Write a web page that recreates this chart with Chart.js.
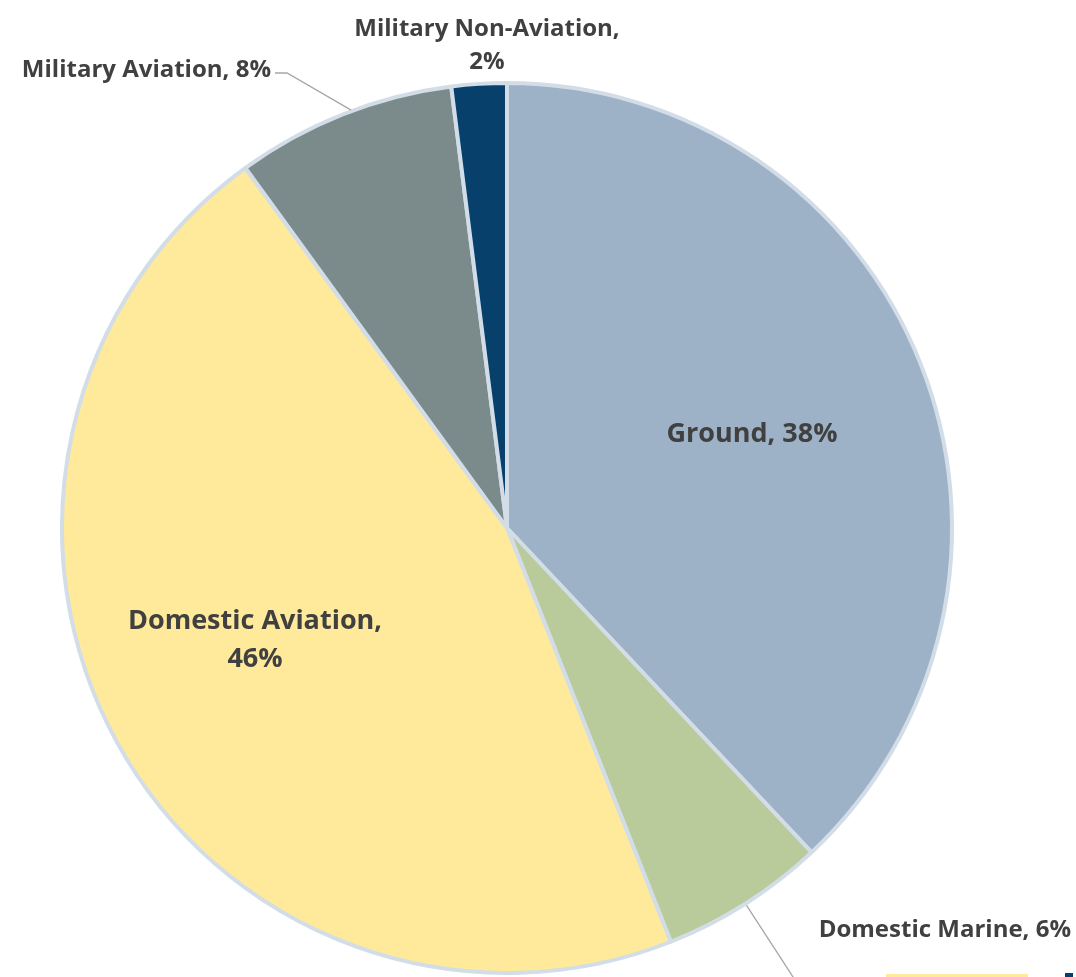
<!DOCTYPE html>
<html>
<head>
<meta charset="utf-8">
<script src="https://cdn.jsdelivr.net/npm/chart.js@4"></script>
<style>
  html, body { margin: 0; padding: 0; background: #fff; overflow: hidden; }
  #wrap { position: relative; width: 1076px; height: 977px; }
</style>
</head>
<body>
<div id="wrap"><canvas id="fuel-pie"></canvas></div>
<script>
var categories = ['Ground', 'Domestic Marine', 'Domestic Aviation', 'Military Aviation', 'Military Non-Aviation'];
var shares = [38, 6, 46, 8, 2];
var sliceColors = ['#9DB2C6', '#B9CA9B', '#FEEA9A', '#7B8B8C', '#07406B'];

// label text + where it sits, in canvas pixels
var labelSpots = [
    { lines: ['Ground, 38%'], x: 752, y: 434, align: 'center', size: 27, gap: 38 },
    { lines: ['Domestic Marine, 6%'], x: 1071, y: 930, align: 'right', size: 24, gap: 33 },
    { lines: ['Domestic Aviation,', '46%'], x: 255, y: 621, align: 'center', size: 27, gap: 38 },
    { lines: ['Military Aviation, 8%'], x: 271, y: 70, align: 'right', size: 24, gap: 33 },
    { lines: ['Military Non-Aviation,', '2%'], x: 487, y: 29, align: 'center', size: 24, gap: 33 }
];

var labelPlugin = {
    id: 'sliceLabels',
    afterDatasetsDraw: function (chart) {
        var ctx = chart.ctx;
        var arcs = chart.getDatasetMeta(0).data;
        ctx.save();

        // leader lines for the two outside labels
        ctx.strokeStyle = '#A6A6A6';
        ctx.lineWidth = 1.3;
        var ma = arcs[3].getProps(['x', 'y', 'outerRadius']);
        var a = -Math.PI / 2 - (shares[4] + shares[3] / 2) / 100 * Math.PI * 2 + 0.02;
        ctx.beginPath();
        ctx.moveTo(275, 73);
        ctx.lineTo(287, 73);
        ctx.lineTo(ma.x + Math.cos(a) * (ma.outerRadius + 1), ma.y + Math.sin(a) * (ma.outerRadius + 1));
        ctx.stroke();

        var dm = arcs[1].getProps(['x', 'y', 'outerRadius']);
        var b = -Math.PI / 2 + (shares[0] + shares[1] / 2) / 100 * Math.PI * 2;
        ctx.beginPath();
        ctx.moveTo(dm.x + Math.cos(b) * (dm.outerRadius + 2), dm.y + Math.sin(b) * (dm.outerRadius + 2));
        ctx.lineTo(795, 980);
        ctx.stroke();

        ctx.fillStyle = '#404040';
        ctx.textBaseline = 'middle';
        labelSpots.forEach(function (s) {
            ctx.font = 'bold ' + s.size + 'px "Open Sans"';
            ctx.textAlign = s.align;
            s.lines.forEach(function (t, i) {
                ctx.fillText(t, s.x, s.y + i * s.gap);
            });
        });

        // top edge of the legend row below
        ctx.fillStyle = sliceColors[2];
        ctx.fillRect(886, 974, 142, 4);
        ctx.fillStyle = sliceColors[4];
        ctx.fillRect(1065, 973, 8, 5);
        ctx.restore();
    }
};

new Chart(document.getElementById('fuel-pie'), {
    type: 'pie',
    data: {
        labels: categories,
        datasets: [{
            data: shares,
            backgroundColor: sliceColors,
            borderColor: '#D2DDE8',
            borderWidth: 4
        }]
    },
    options: {
        responsive: true,
        maintainAspectRatio: false,
        animation: false,
        layout: { padding: { top: 81, bottom: 2, left: 60, right: 122 } },
        plugins: {
            legend: { display: false },
            tooltip: { enabled: false }
        }
    },
    plugins: [labelPlugin]
});
</script>
</body>
</html>
